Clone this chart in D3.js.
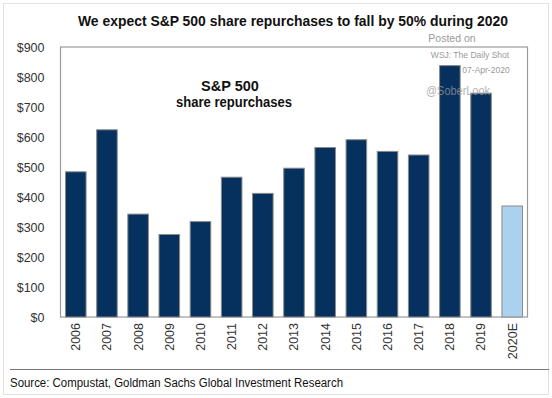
<!DOCTYPE html>
<html>
<head>
<meta charset="utf-8">
<script src="https://cdn.jsdelivr.net/npm/d3@7"></script>
<style>
  body { margin: 0; background: #fff; }
  text { font-family: "Liberation Sans", Arial, sans-serif; }
</style>
</head>
<body>
<div id="okvir"></div>
<script>
const years = ["2006", "2007", "2008", "2009", "2010", "2011", "2012", "2013",
  "2014", "2015", "2016", "2017", "2018", "2019", "2020E"];
const buybacks = [484, 624, 343, 275, 318, 466, 412, 496, 565, 591, 552, 540, 838, 746, 370];
const yTicks = [0, 100, 200, 300, 400, 500, 600, 700, 800, 900];

const title = "We expect S&P 500 share repurchases to fall by 50% during 2020";
const source = "Source: Compustat, Goldman Sachs Global Investment Research";

const sirina = 552, visina = 398;
const granica = { left: 60.5, right: 527.5, top: 47, bottom: 317 };

const svg = d3.select("#okvir").append("svg")
  .attr("width", sirina)
  .attr("height", visina);

// outer frame
svg.append("rect")
  .attr("x", 3.5).attr("y", 3.5)
  .attr("width", sirina - 7).attr("height", visina - 7)
  .attr("fill", "none").attr("stroke", "#e2e2e2");

const x = d3.scaleBand()
  .domain(years)
  .range([granica.left, granica.right])
  .paddingInner(0.34)
  .paddingOuter(0.16);

const y = d3.scaleLinear()
  .domain([0, 900])
  .range([granica.bottom, granica.top]);

// plot box
svg.append("rect")
  .attr("x", granica.left).attr("y", granica.top)
  .attr("width", granica.right - granica.left)
  .attr("height", granica.bottom - granica.top)
  .attr("fill", "none").attr("stroke", "#9a9a9a").attr("stroke-width", 1.2);

// bars
svg.selectAll(".bar")
  .data(years)
  .enter().append("rect")
    .attr("class", "bar")
    .attr("x", d => x(d))
    .attr("y", (d, i) => y(buybacks[i]))
    .attr("width", x.bandwidth())
    .attr("height", (d, i) => y(0) - y(buybacks[i]))
    .attr("fill", d => d === "2020E" ? "#acd1ef" : "#06305e")
    .attr("stroke", "#8a8a8a")
    .attr("stroke-width", 1);

// y axis
const yAxis = svg.append("g")
  .attr("transform", `translate(${granica.left},0)`)
  .call(d3.axisLeft(y).tickValues(yTicks).tickSize(0).tickPadding(16)
    .tickFormat(d => "$" + d));
yAxis.select(".domain").remove();
yAxis.selectAll("text")
  .attr("font-size", 12.5)
  .attr("fill", "#333")
  .style("font-family", "'Liberation Sans', Arial, sans-serif");

// x axis
const xAxis = svg.append("g")
  .attr("transform", `translate(0,${granica.bottom})`)
  .call(d3.axisBottom(x).tickSize(0));
xAxis.select(".domain").remove();
xAxis.selectAll("text")
  .attr("font-size", 12.5)
  .attr("fill", "#333")
  .style("font-family", "'Liberation Sans', Arial, sans-serif")
  .attr("text-anchor", "end")
  .attr("transform", "rotate(-90)")
  .attr("x", -6)
  .attr("y", 0)
  .attr("dy", "0.35em");

// title
svg.append("text")
  .attr("x", 293).attr("y", 26)
  .attr("text-anchor", "middle")
  .attr("font-size", 15)
  .attr("font-weight", "bold")
  .attr("fill", "#111")
  .attr("textLength", 430)
  .attr("lengthAdjust", "spacingAndGlyphs")
  .text(title);

// annotation
svg.append("text")
  .attr("x", 230).attr("y", 91)
  .attr("text-anchor", "middle")
  .attr("font-size", 14.5).attr("font-weight", "bold").attr("fill", "#111")
  .text("S&P 500");
svg.append("text")
  .attr("x", 234).attr("y", 107)
  .attr("text-anchor", "middle")
  .attr("font-size", 14.5).attr("font-weight", "bold").attr("fill", "#111")
  .attr("textLength", 116)
  .attr("lengthAdjust", "spacingAndGlyphs")
  .text("share repurchases");

// watermark
const wm = svg.append("g").attr("fill", "#9a9a9a");
wm.append("text").attr("x", 452).attr("y", 42).attr("text-anchor", "middle")
  .attr("font-size", 10.5).text("Posted on");
wm.append("text").attr("x", 470).attr("y", 58).attr("text-anchor", "middle")
  .attr("font-size", 8.5).text("WSJ: The Daily Shot");
wm.append("text").attr("x", 486).attr("y", 73).attr("text-anchor", "middle")
  .attr("font-size", 8.5).text("07-Apr-2020");
wm.append("text").attr("x", 458).attr("y", 95).attr("text-anchor", "middle")
  .attr("font-size", 12).attr("opacity", 0.75)
  .attr("textLength", 64).attr("lengthAdjust", "spacingAndGlyphs")
  .text("@SoberLook");

// source line
svg.append("line")
  .attr("x1", 10).attr("x2", 549)
  .attr("y1", 369.5).attr("y2", 369.5)
  .attr("stroke", "#777").attr("stroke-width", 1.2);

svg.append("text")
  .attr("x", 10).attr("y", 387)
  .attr("font-size", 12)
  .attr("fill", "#111")
  .attr("textLength", 333)
  .attr("lengthAdjust", "spacingAndGlyphs")
  .text(source);
</script>
</body>
</html>
